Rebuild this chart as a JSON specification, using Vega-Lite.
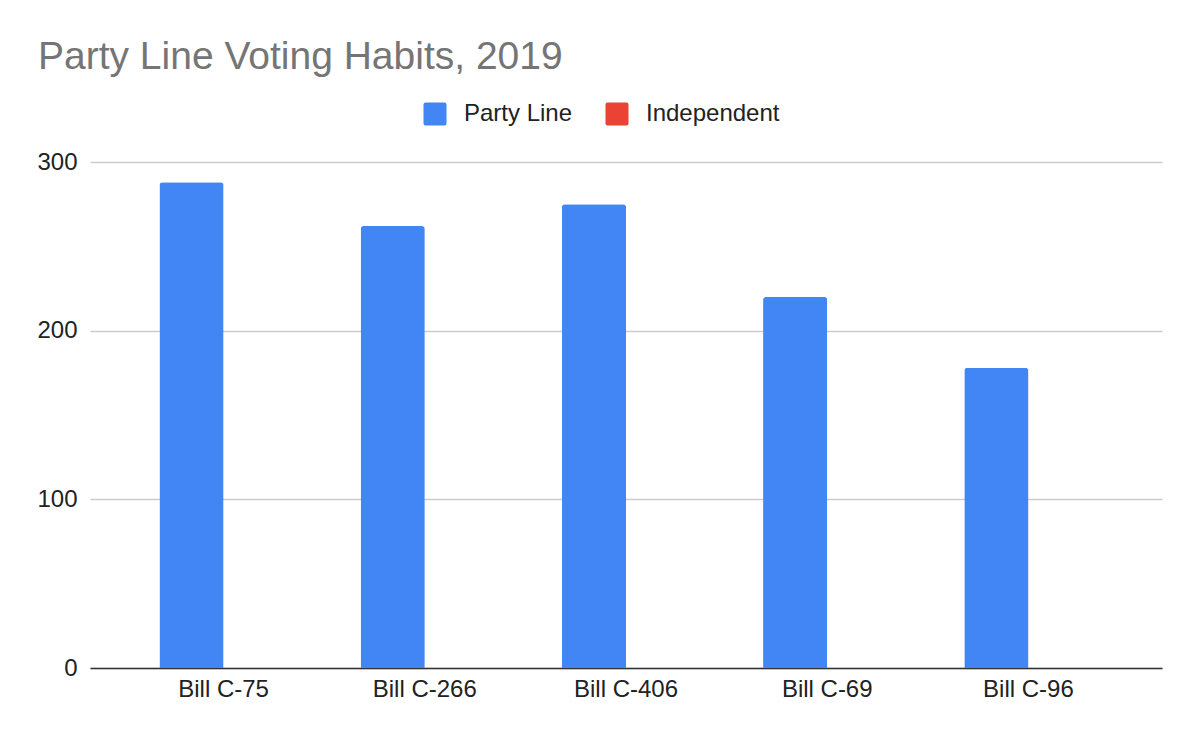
{
  "$schema": "https://vega.github.io/schema/vega-lite/v6.json",
  "width": 1072,
  "height": 506,
  "autosize": "none",
  "padding": {"left": 90, "top": 162, "right": 38, "bottom": 74},
  "background": "#ffffff",
  "config": {
    "font": "Liberation Sans",
    "view": {"stroke": null}
  },
  "title": {
    "text": "Party Line Voting Habits, 2019",
    "anchor": "start",
    "frame": "group",
    "dx": -52,
    "fontSize": 39,
    "fontWeight": "normal",
    "color": "#757575",
    "offset": 25
  },
  "data": {
    "values": [
      {"bill": "Bill C-75", "series": "Party Line", "votes": 288},
      {"bill": "Bill C-75", "series": "Independent", "votes": 0},
      {"bill": "Bill C-266", "series": "Party Line", "votes": 262},
      {"bill": "Bill C-266", "series": "Independent", "votes": 0},
      {"bill": "Bill C-406", "series": "Party Line", "votes": 275},
      {"bill": "Bill C-406", "series": "Independent", "votes": 0},
      {"bill": "Bill C-69", "series": "Party Line", "votes": 220},
      {"bill": "Bill C-69", "series": "Independent", "votes": 0},
      {"bill": "Bill C-96", "series": "Party Line", "votes": 178},
      {"bill": "Bill C-96", "series": "Independent", "votes": 0}
    ]
  },
  "mark": {"type": "bar", "cornerRadiusEnd": 3},
  "encoding": {
    "x": {
      "field": "bill",
      "type": "nominal",
      "sort": null,
      "scale": {"paddingInner": 0.3625, "paddingOuter": 0.345},
      "axis": {
        "title": null,
        "labelAngle": 0,
        "labelFontSize": 24,
        "labelColor": "#222222",
        "labelPadding": 9,
        "ticks": false,
        "domainColor": "#333333",
        "domainWidth": 1.5,
        "grid": false
      }
    },
    "xOffset": {
      "field": "series",
      "sort": ["Party Line", "Independent"],
      "scale": {"paddingInner": 0, "paddingOuter": 0}
    },
    "y": {
      "field": "votes",
      "type": "quantitative",
      "scale": {"domain": [0, 300], "nice": false},
      "axis": {
        "title": null,
        "values": [0, 100, 200, 300],
        "labelFontSize": 24,
        "labelColor": "#222222",
        "labelPadding": 13,
        "ticks": false,
        "domain": false,
        "gridColor": "#cccccc",
        "gridWidth": 1.3
      }
    },
    "color": {
      "field": "series",
      "type": "nominal",
      "scale": {"domain": ["Party Line", "Independent"], "range": ["#4285F4", "#EA4335"]},
      "legend": {
        "title": null,
        "orient": "none",
        "direction": "horizontal",
        "legendX": 333,
        "legendY": -60,
        "padding": 0,
        "symbolType": "M-1,-0.82Q-1,-1,-0.82,-1L0.82,-1Q1,-1,1,-0.82L1,0.82Q1,1,0.82,1L-0.82,1Q-1,1,-1,0.82Z",
        "symbolSize": 529,
        "symbolStrokeWidth": 0,
        "symbolOpacity": 1,
        "labelFontSize": 24,
        "labelColor": "#222222",
        "labelOffset": 17,
        "columnPadding": 32
      }
    }
  }
}
